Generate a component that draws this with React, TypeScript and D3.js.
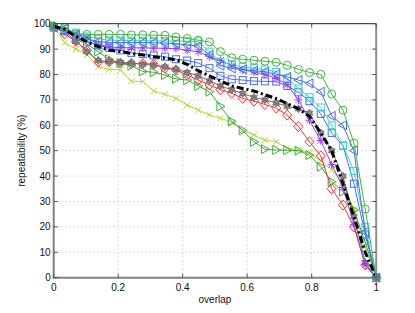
import React from 'react';
import * as d3 from 'd3';

// overlap thresholds (30 steps from 0 to 1)
const overlap = [0, 0.034, 0.069, 0.103, 0.138, 0.172, 0.207, 0.241, 0.276, 0.310, 0.345, 0.379, 0.414, 0.448, 0.483,
  0.517, 0.552, 0.586, 0.621, 0.655, 0.690, 0.724, 0.759, 0.793, 0.828, 0.862, 0.897, 0.931, 0.966, 1];

const greenCircle = [99, 98.5, 96, 95.8, 95.8, 95.8, 95.8, 95.6, 95.6, 95.5, 95.4, 94.8, 94.2, 93.5, 92.8,
  89, 86.6, 86, 85.6, 85.2, 84.8, 83.6, 82, 80.8, 80.1, 72.3, 66, 53, 27, 0];
const cyanLine = [98.5, 98, 96.5, 95, 94, 93.5, 93.4, 93.3, 93.3, 93.3, 93.2, 93.2, 93.1, 93, 89,
  85, 84, 83, 82.5, 82, 81, 78.5, 74.5, 71, 67, 60, 52, 42, 20, 0];
const blueTriLeft = [98.5, 98, 95.5, 94, 93, 92.6, 92.6, 92.6, 92.6, 92.5, 92.4, 92.2, 91.6, 91.2, 87.7,
  83.5, 82.4, 82, 81.5, 81.1, 80.1, 79.1, 77.8, 76.5, 73.2, 63.7, 60, 50, 18, 0];
const purpleStar = [98, 97.5, 96, 94.5, 92, 90.8, 90.6, 90.5, 90.5, 90.4, 90.3, 90.2, 89.5, 89, 87,
  85.5, 83.5, 81.8, 81, 80, 78.5, 76, 70, 62, 54, 44.5, 35.5, 21, 5, 0];
const blueSquare = [98.5, 97, 95, 93, 91.5, 90.5, 89.5, 88.5, 88, 87.5, 87, 86, 85.5, 84.5, 82.5,
  79.5, 78.1, 77.8, 77.4, 77.3, 77.2, 75.5, 73, 69.5, 64.5, 57, 52, 37, 17, 0];
const grayHex = [99, 97, 93, 89, 85.5, 85, 84.8, 84.5, 84, 83.7, 83, 82, 80.8, 79.5, 77.5,
  75.5, 74, 72.5, 71, 70, 68.8, 67.5, 66.5, 64.8, 57, 50, 40, 24, 6, 0];
const redDiamond = [99, 96, 93, 89.5, 85, 85, 84.5, 84.3, 84.3, 84, 82.5, 81.8, 79.8, 77.8, 75.9,
  74, 72.6, 70.6, 69.5, 68.2, 66.8, 64, 59.5, 53.5, 48, 35, 28.6, 20, 5, 0];
const greenTriRight = [99, 97.5, 94, 92, 89, 86, 84.5, 83.5, 81.2, 80.9, 79.8, 78.3, 77.8, 75.5, 73.2,
  67.5, 61.5, 58, 53.5, 50.6, 50.3, 50.2, 50, 48.3, 43.7, 37.8, 33.9, 26.7, 14, 0];
const yellowX = [99, 92.5, 90, 87.7, 83.1, 82, 81.8, 77.4, 77.2, 73.5, 72.2, 70.6, 68, 66, 64.1,
  62.8, 61.2, 58.1, 56.2, 54.2, 53.5, 51, 50.3, 49, 46, 42.5, 37, 27, 12, 0];
const meanLine = [99, 97.8, 95, 92.9, 91, 89.6, 89, 88.3, 87.7, 87, 86.4, 85.8, 84, 81.5, 79.5,
  77.5, 75.5, 74.5, 73.5, 72, 70.5, 68.5, 66.5, 63.5, 57, 50, 37, 24, 10, 0];

const xTicks = [0, 0.2, 0.4, 0.6, 0.8, 1];
const yTicks = [0, 10, 20, 30, 40, 50, 60, 70, 80, 90, 100];

const series = [
  { name: 'yellowX', values: yellowX, color: '#b5d92a', marker: 'x' },
  { name: 'greenTriRight', values: greenTriRight, color: '#3aaf3a', marker: 'tr' },
  { name: 'redDiamond', values: redDiamond, color: '#ff3030', marker: 'd' },
  { name: 'grayHex', values: grayHex, color: '#707070', marker: 'h' },
  { name: 'blueSquare', values: blueSquare, color: '#4a6cff', marker: 's' },
  { name: 'purpleStar', values: purpleStar, color: '#9b3bff', marker: '*' },
  { name: 'cyanLine', values: cyanLine, color: '#3fd6c6', marker: 's' },
  { name: 'blueTriLeft', values: blueTriLeft, color: '#4a6cf0', marker: 'tl' },
  { name: 'greenCircle', values: greenCircle, color: '#3cb83c', marker: 'o' },
];

const W = 415, H = 313;
const m = { left: 53.7, right: 38.8, top: 23.7, bottom: 35.3 };
const font = '"Liberation Sans", Arial, Helvetica, sans-serif';

function Marker({ type, x, y, color }: { type: string; x: number; y: number; color: string }) {
  const p = { fill: 'none', stroke: color, strokeWidth: 1 };
  switch (type) {
    case 'o':
      return <circle cx={x} cy={y} r={4} {...p} />;
    case 's':
      return <rect x={x - 3.5} y={y - 3.5} width={7} height={7} {...p} />;
    case 'd':
      return <path d={`M${x},${y - 5}L${x + 4.5},${y}L${x},${y + 5}L${x - 4.5},${y}Z`} {...p} />;
    case 'tl':
      return <path d={`M${x - 4.5},${y}L${x + 3.5},${y - 4.5}L${x + 3.5},${y + 4.5}Z`} {...p} />;
    case 'tr':
      return <path d={`M${x + 4.5},${y}L${x - 3.5},${y - 4.5}L${x - 3.5},${y + 4.5}Z`} {...p} />;
    case 'x':
      return <path d={`M${x - 3},${y - 3}L${x + 3},${y + 3}M${x - 3},${y + 3}L${x + 3},${y - 3}`} {...p} />;
    case '*':
      return <path d={`M${x - 4},${y}L${x + 4},${y}M${x},${y - 4}L${x},${y + 4}M${x - 3},${y - 3}L${x + 3},${y + 3}M${x - 3},${y + 3}L${x + 3},${y - 3}`} {...p} />;
    case 'h': {
      const r = 4;
      const t1 = [0, 1, 2].map(k => [x + r * Math.sin(k * 2 * Math.PI / 3), y - r * Math.cos(k * 2 * Math.PI / 3)]);
      const t2 = [0, 1, 2].map(k => [x - r * Math.sin(k * 2 * Math.PI / 3), y + r * Math.cos(k * 2 * Math.PI / 3)]);
      const d = `M${t1.map(q => q.join(',')).join('L')}Z M${t2.map(q => q.join(',')).join('L')}Z`;
      return <path d={d} fill={color} fillOpacity={0.7} stroke={color} strokeWidth={0.8} />;
    }
    default:
      return null;
  }
}

export default function App() {
  const x = d3.scaleLinear().domain([0, 1]).range([m.left, W - m.right]);
  const y = d3.scaleLinear().domain([0, 100]).range([H - m.bottom, m.top]);
  const line = d3.line<number>().x((_, i) => x(overlap[i])).y(d => y(d));
  const x0 = x(0), x1 = x(1), y0 = y(0), y1 = y(100);

  return (
    <svg width={W} height={H} style={{ position: 'absolute', left: 0, top: 0, background: '#fff' }} fontFamily={font}>
      <rect x={0} y={0} width={W} height={H} fill="#fff" />
      {/* grid */}
      <g stroke="#a8a8a8" strokeWidth={0.8} strokeDasharray="1,3">
        {xTicks.slice(1, -1).map(t => <line key={'gx' + t} x1={x(t)} x2={x(t)} y1={y0} y2={y1} />)}
        {yTicks.slice(1, -1).map(t => <line key={'gy' + t} x1={x0} x2={x1} y1={y(t)} y2={y(t)} />)}
      </g>
      {/* series */}
      {series.map(s => (
        <g key={s.name}>
          <path d={line(s.values) || ''} fill="none" stroke={s.color} strokeWidth={1} />
          {s.values.map((v, i) => <Marker key={i} type={s.marker} x={x(overlap[i])} y={y(v)} color={s.color} />)}
        </g>
      ))}
      <path d={line(meanLine) || ''} fill="none" stroke="#000" strokeWidth={3} strokeDasharray="7,3,2,3" />
      {/* axes box */}
      <line x1={x0} x2={x1} y1={y1} y2={y1} stroke="#222" strokeWidth={1} />
      <line x1={x0} x2={x0} y1={y1} y2={y0 + 1} stroke="#808080" strokeWidth={2} />
      <line x1={x0 - 1} x2={x1 + 1} y1={y0} y2={y0} stroke="#808080" strokeWidth={2} />
      <line x1={x1} x2={x1} y1={y1} y2={y0} stroke="#909090" strokeWidth={2} />
      {/* ticks */}
      <g stroke="#555" strokeWidth={1}>
        {xTicks.map(t => (
          <g key={'tx' + t}>
            <line x1={x(t)} x2={x(t)} y1={y0} y2={y0 - 4} />
            <line x1={x(t)} x2={x(t)} y1={y1} y2={y1 + 4} />
          </g>
        ))}
        {yTicks.map(t => (
          <g key={'ty' + t}>
            <line x1={x0} x2={x0 + 4} y1={y(t)} y2={y(t)} />
            <line x1={x1} x2={x1 - 4} y1={y(t)} y2={y(t)} />
          </g>
        ))}
      </g>
      {/* tick labels */}
      <g fontSize={10} fill="#111">
        {xTicks.map(t => (
          <text key={'lx' + t} x={x(t)} y={y0 + 13} textAnchor="middle">{String(t)}</text>
        ))}
        {yTicks.map(t => (
          <text key={'ly' + t} x={x0 - 3} y={y(t) + 3.5} textAnchor="end">{String(t)}</text>
        ))}
      </g>
      <text x={(x0 + x1) / 2} y={y0 + 25} textAnchor="middle" fontSize={10} fill="#111">overlap</text>
      <text transform={`translate(25,${(y0 + y1) / 2}) rotate(-90)`} textAnchor="middle" fontSize={10} fill="#111">repeatability (%)</text>
    </svg>
  );
}
